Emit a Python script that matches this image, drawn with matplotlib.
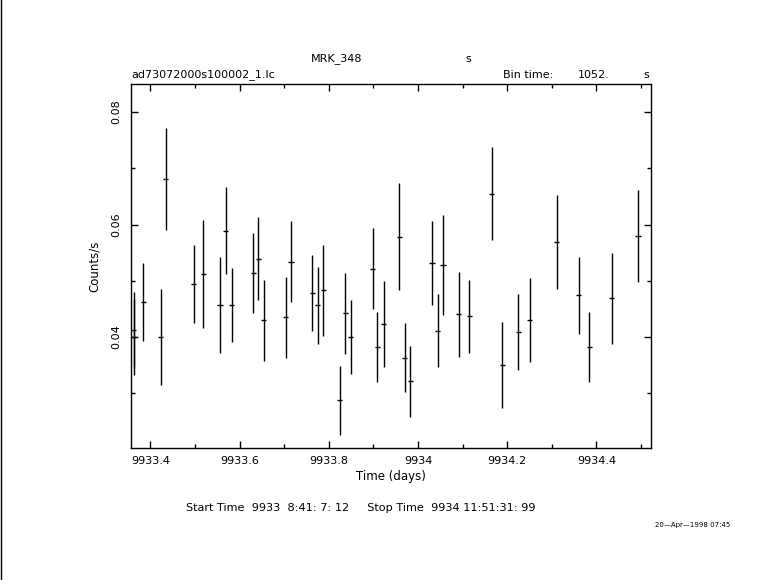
import numpy as np
import matplotlib
matplotlib.use('Agg')
import matplotlib.pyplot as plt
from matplotlib.ticker import MultipleLocator, FixedLocator

# light curve bins (time in days, counts/s, 1-sigma error)
time_days = [9933.3625, 9933.3625, 9933.384, 9933.423, 9933.434, 9933.497, 9933.519,
             9933.556, 9933.569, 9933.582, 9933.631, 9933.642, 9933.654, 9933.703,
             9933.715, 9933.763, 9933.775, 9933.788, 9933.824, 9933.837, 9933.849,
             9933.898, 9933.909, 9933.923, 9933.958, 9933.970, 9933.983, 9934.031,
             9934.044, 9934.056, 9934.091, 9934.115, 9934.165, 9934.189, 9934.225,
             9934.250, 9934.311, 9934.360, 9934.384, 9934.434, 9934.493]
rate = [0.0413, 0.0400, 0.0462, 0.0400, 0.0681, 0.0494, 0.0512,
        0.0457, 0.0589, 0.0457, 0.0514, 0.0539, 0.0430, 0.0435,
        0.0534, 0.0478, 0.0456, 0.0483, 0.0287, 0.0442, 0.0400,
        0.0521, 0.0382, 0.0423, 0.0578, 0.0363, 0.0321, 0.0532,
        0.0411, 0.0528, 0.0440, 0.0437, 0.0655, 0.0350, 0.0409,
        0.0430, 0.0569, 0.0474, 0.0382, 0.0469, 0.0580]
rate_err = [0.0067, 0.0067, 0.0069, 0.0086, 0.0091, 0.0069, 0.0096,
            0.0086, 0.0077, 0.0066, 0.0071, 0.0074, 0.0072, 0.0072,
            0.0072, 0.0068, 0.0068, 0.0081, 0.0061, 0.0072, 0.0066,
            0.0072, 0.0062, 0.0076, 0.0095, 0.0061, 0.0063, 0.0075,
            0.0065, 0.0089, 0.0076, 0.0065, 0.0083, 0.0077, 0.0067,
            0.0075, 0.0084, 0.0069, 0.0062, 0.0081, 0.0082]
bin_time = 1052.0
half_bin = bin_time / 2 / 86400.0

x_ticks = [9933.4, 9933.6, 9933.8, 9934.0, 9934.2, 9934.4]
x_tick_labels = ['9933.4', '9933.6', '9933.8', '9934', '9934.2', '9934.4']
y_ticks = [0.04, 0.06, 0.08]
y_tick_labels = ['0.04', '0.06', '0.08']

plt.rcParams['font.family'] = ['DejaVu Sans']

fig = plt.figure(figsize=(7.81, 5.80), dpi=100)
ax = fig.add_axes([0.1674, 0.2281, 0.6666, 0.6271])

ax.errorbar(time_days, rate, yerr=rate_err, xerr=half_bin, fmt='none',
            ecolor='black', elinewidth=1.0, capsize=0)

ax.set_xlim(9933.356, 9934.523)
ax.set_ylim(0.0203, 0.085)

ax.xaxis.set_major_locator(FixedLocator(x_ticks))
ax.set_xticklabels(x_tick_labels)
ax.xaxis.set_minor_locator(MultipleLocator(0.1))
ax.yaxis.set_major_locator(FixedLocator(y_ticks))
ax.set_yticklabels(y_tick_labels, rotation=90, va='center')
ax.yaxis.set_minor_locator(MultipleLocator(0.01))

ax.tick_params(which='both', direction='in', top=True, right=True,
               width=1.0, labelsize=8)
ax.tick_params(which='major', length=5)
ax.tick_params(which='minor', length=3)
ax.tick_params(axis='x', pad=6)
ax.tick_params(axis='y', pad=7)
for s in ax.spines.values():
    s.set_linewidth(1.0)

ax.set_xlabel('Time (days)', fontsize=8.5, labelpad=3)
ax.set_ylabel('Counts/s', fontsize=8.5, labelpad=7)

# header / footer texts in pixel-ish figure fraction
W, H = 781.0, 580.0
fig.text(337 / W, 1 - 59 / H, 'MRK_348', fontsize=8, ha='center', va='center')
fig.text(468 / W, 1 - 59 / H, 's', fontsize=8, ha='center', va='center')
fig.text(131 / W, 1 - 75 / H, 'ad73072000s100002_1.lc', fontsize=8, ha='left', va='center')
fig.text(503 / W, 1 - 75 / H, 'Bin time:', fontsize=8, ha='left', va='center')
fig.text(610 / W, 1 - 75 / H, '1052.', fontsize=8, ha='right', va='center')
fig.text(646 / W, 1 - 75 / H, 's', fontsize=8, ha='center', va='center')
fig.text(361 / W, 1 - 508 / H, 'Start Time  9933  8:41: 7: 12     Stop Time  9934 11:51:31: 99',
         fontsize=8.1, ha='center', va='center')
fig.text(730 / W, 1 - 525 / H, '20\u2014Apr\u20141998 07:45', fontsize=5, ha='right', va='center')

# left border line of the original page
fig.add_artist(plt.Line2D([1 / W, 1 / W], [0, 1], color='black', linewidth=1.0))

fig.savefig('out.png', dpi=100)
